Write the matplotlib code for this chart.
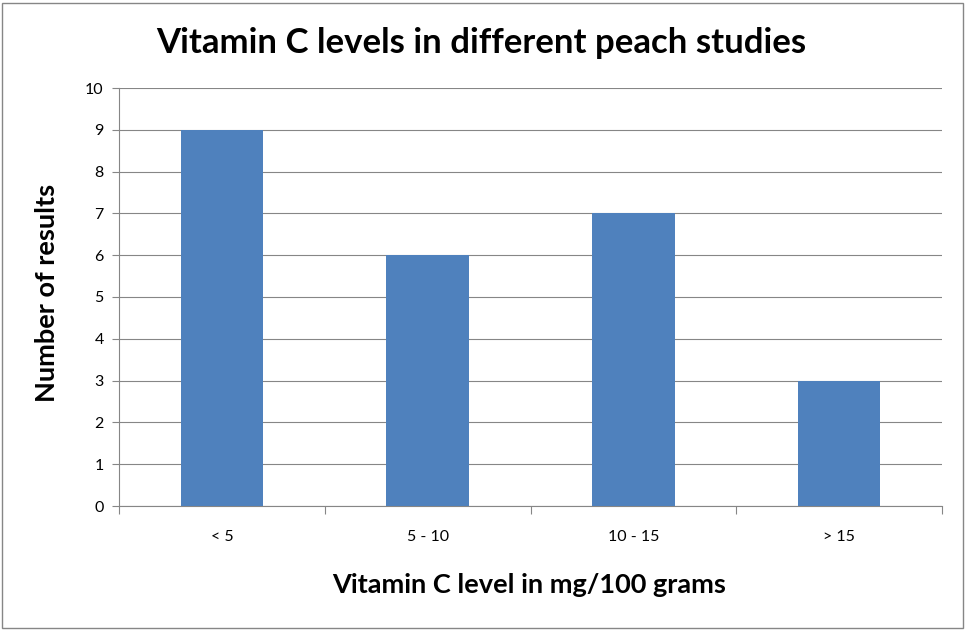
import matplotlib.pyplot as plt
import numpy as np
from matplotlib.patches import Rectangle

categories = ['< 5', '5 - 10', '10 - 15', '> 15']
counts = [9, 6, 7, 3]
y_ticks = list(range(0, 11))

plt.rcParams['font.family'] = ['Lato', 'DejaVu Sans']

fig = plt.figure(figsize=(9.66, 6.3), dpi=100)
ax = fig.add_axes([119 / 966, 1 - 506 / 630, (942 - 119) / 966, (506 - 88) / 630])

x = np.arange(len(categories))
ax.bar(x, counts, width=0.4, color='#4f81bd', zorder=3)

ax.set_xlim(-0.5, len(categories) - 0.5)
ax.set_ylim(0, 10)
ax.set_yticks(y_ticks)
ax.yaxis.grid(True, color='#868686', linewidth=0.8, zorder=0)

# category labels between boundary ticks
ax.set_xticks(np.arange(-0.5, len(categories), 1.0))
ax.set_xticklabels([])
ax.set_xticks(x, minor=True)
ax.set_xticklabels(categories, minor=True)
ax.tick_params(axis='x', which='minor', length=0, pad=17, labelsize=11.5)
ax.tick_params(axis='x', which='major', length=6, color='#868686', direction='out')
ax.tick_params(axis='y', length=5, color='#868686', labelsize=11.5, pad=6)

for side in ['top', 'right']:
    ax.spines[side].set_visible(False)
for side in ['left', 'bottom']:
    ax.spines[side].set_color('#868686')

fig.text(529 / 966, 1 - 585 / 630, 'Vitamin C level in mg/100 grams',
         ha='center', va='center', fontsize=19.5, fontweight='bold')
fig.text(47 / 966, 1 - 293 / 630, 'Number of results', rotation=90,
         ha='center', va='center', fontsize=19.5, fontweight='bold')
fig.text(481 / 966, 1 - 43 / 630, 'Vitamin C levels in different peach studies',
         ha='center', va='center', fontsize=25, fontweight='bold')

fig.patches.append(Rectangle((2 / 966, 2 / 630), 961 / 966, 625 / 630, transform=fig.transFigure,
                             fill=False, edgecolor='#868686', linewidth=1))

fig.savefig('out.png', dpi=100)
